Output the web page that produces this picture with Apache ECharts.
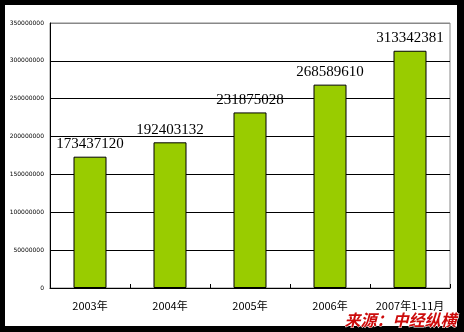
<!DOCTYPE html>
<html><head><meta charset="utf-8">
<script src="https://cdn.jsdelivr.net/npm/echarts@6/dist/echarts.min.js"></script>
<style>html,body{margin:0;padding:0;background:#000;}#c{width:464px;height:332px;}</style>
</head><body><div id="c"></div>
<script>
const categories = ['2003年', '2004年', '2005年', '2006年', '2007年1-11月'];
const values = [173437120, 192403132, 231875028, 268589610, 313342381];
const yTicks = [0, 50000000, 100000000, 150000000, 200000000, 250000000, 300000000, 350000000];
const sourceText = '来源：中经纵横';

const chart = echarts.init(document.getElementById('c'), null, {renderer: 'canvas'});
chart.setOption({
  backgroundColor: '#000',
  animation: false,
  graphic: [
    {type: 'rect', z: -10, silent: true, shape: {x: 5, y: 5, width: 452, height: 321}, style: {fill: '#fff'}},
    {type: 'text', z: 100, right: 7, top: 311,
     style: {text: sourceText, fill: '#cc0a0a', font: 'italic bold 16px "Noto Sans CJK SC"', stroke: '#fff', lineWidth: 1}}
  ],
  grid: {left: 50, right: 14, top: 23, bottom: 44, show: true, borderColor: '#888', borderWidth: 1, backgroundColor: '#fff'},
  xAxis: {
    type: 'category', data: categories,
    axisLine: {lineStyle: {color: '#000', width: 1}},
    axisTick: {show: true, inside: true, length: 4, lineStyle: {color: '#000'}},
    axisLabel: {color: '#000', fontSize: 11, margin: 12, fontFamily: '"Noto Sans CJK SC", sans-serif', interval: 0}
  },
  yAxis: {
    type: 'value', min: yTicks[0], max: yTicks[yTicks.length - 1], interval: yTicks[1] - yTicks[0],
    axisLine: {show: true, lineStyle: {color: '#000', width: 1}},
    axisTick: {show: false},
    axisLabel: {color: '#000', fontSize: 6, margin: 6, fontFamily: 'DejaVu Sans', formatter: v => String(v)},
    splitLine: {show: true, lineStyle: {color: ['#000','#000','#000','#000','#000','#000','#000','#888'], width: 1}}
  },
  series: [{
    type: 'bar', data: values, barWidth: 33,
    itemStyle: {color: '#99cc00', borderColor: '#000', borderWidth: 1},
    label: {show: true, position: 'top', distance: 5, color: '#000', fontSize: 15, fontFamily: '"Liberation Serif", serif'}
  }]
});
</script></body></html>
